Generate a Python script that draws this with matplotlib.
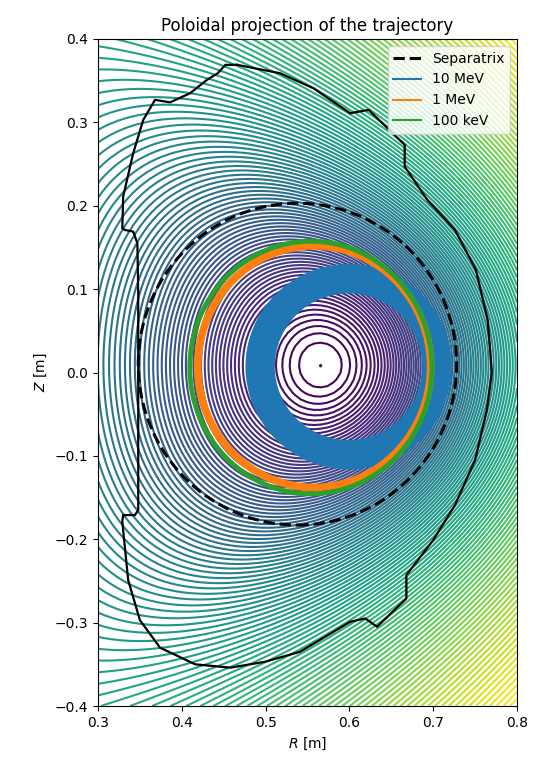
import numpy as np
import matplotlib
matplotlib.use("Agg")
import matplotlib.pyplot as plt
from matplotlib.patches import Ellipse
from matplotlib.lines import Line2D

# flux map parameters (magnetic axis, shape, saturation)
R_axis, Z_axis = 0.566, 0.009
shape_A = 3.6
psi_sat = 0.025
n_levels = 110

# first wall outline [m]
wall_R = [0.466, 0.452, 0.443, 0.430, 0.410, 0.386, 0.368, 0.354, 0.342, 0.330,
          0.329, 0.332, 0.342, 0.347, 0.348, 0.348, 0.344, 0.330, 0.329, 0.336,
          0.350, 0.374, 0.416, 0.458, 0.499, 0.541, 0.601, 0.619, 0.633, 0.668,
          0.668, 0.700, 0.726, 0.750, 0.764, 0.770, 0.765, 0.751, 0.726, 0.693,
          0.666, 0.666, 0.623, 0.601, 0.595, 0.557, 0.517, 0.466]
wall_Z = [0.369, 0.369, 0.359, 0.351, 0.335, 0.324, 0.327, 0.303, 0.263, 0.211,
          0.173, 0.171, 0.169, 0.155, 0.095, -0.165, -0.171, -0.171, -0.179, -0.249,
          -0.297, -0.330, -0.350, -0.354, -0.347, -0.335, -0.299, -0.295, -0.305, -0.271,
          -0.243, -0.201, -0.159, -0.105, -0.045, 0.000, 0.063, 0.123, 0.171, 0.207,
          0.247, 0.273, 0.315, 0.311, 0.315, 0.341, 0.359, 0.369]

# separatrix (centre, half widths)
sep_c = (0.538, 0.010)
sep_a, sep_b = 0.190, 0.193

# orbits: 10 MeV band, 1 MeV ring, 100 keV ring
orb10_c = (0.599, 0.007)
orb10_rout, orb10_rin = 0.123, 0.088
orb1_c = (0.558, 0.007)
orb1_a, orb1_b = 0.139, 0.145
orb01_c = (0.554, 0.006)
orb01_a, orb01_b = 0.1445, 0.1515

labels = ["Separatrix", "10 MeV", "1 MeV", "100 keV"]

R = np.linspace(0.3, 0.8, 65)
Z = np.linspace(-0.4, 0.4, 101)
RR, ZZ = np.meshgrid(R, Z)
S = shape_A * RR**2 * (ZZ - Z_axis)**2 + (RR**2 - R_axis**2)**2
psi = psi_sat * np.arcsinh(S / psi_sat)

fig = plt.figure(figsize=(5.34, 7.67), dpi=100)
ax = fig.add_axes([98/534, 61/767, 419/534, 667/767])

step = (psi.max() - psi.min()) / n_levels
levels = psi.min() + 0.01 * step + step * np.arange(n_levels)
ax.contour(RR, ZZ, psi, levels=levels, cmap="viridis", zorder=1)
ax.plot(wall_R, wall_Z, color="k", lw=1.6, zorder=3)

# band width in points from metres (axes ~838 px per metre, 100 dpi)
px_per_m = 419 / 0.5
band_mid = (orb10_rout + orb10_rin) / 2
band_lw = (orb10_rout - orb10_rin) * px_per_m * 72 / 100

ax.add_patch(Ellipse(sep_c, 2*sep_a, 2*sep_b, fill=False, ec="k", ls="--", lw=2.2, zorder=3))
ax.add_patch(Ellipse(orb10_c, 2*band_mid, 2*band_mid, fill=False, ec="tab:blue", lw=band_lw, zorder=4))
ax.add_patch(Ellipse(orb1_c, 2*orb1_a, 2*orb1_b, fill=False, ec="tab:orange", lw=5.5, zorder=5))
ax.add_patch(Ellipse(orb01_c, 2*orb01_a, 2*orb01_b, fill=False, ec="tab:green", lw=3.5, zorder=6))

handles = [Line2D([], [], color="k", ls="--", lw=2.2),
           Line2D([], [], color="tab:blue", lw=1.5),
           Line2D([], [], color="tab:orange", lw=1.5),
           Line2D([], [], color="tab:green", lw=1.5)]
ax.legend(handles, labels, loc="upper right")

ax.set_xlim(0.3, 0.8)
ax.set_ylim(-0.4, 0.4)
ax.set_xlabel("$R$ [m]")
ax.set_ylabel("$Z$ [m]")
ax.set_title("Poloidal projection of the trajectory")

fig.savefig("out.png", dpi=100)
